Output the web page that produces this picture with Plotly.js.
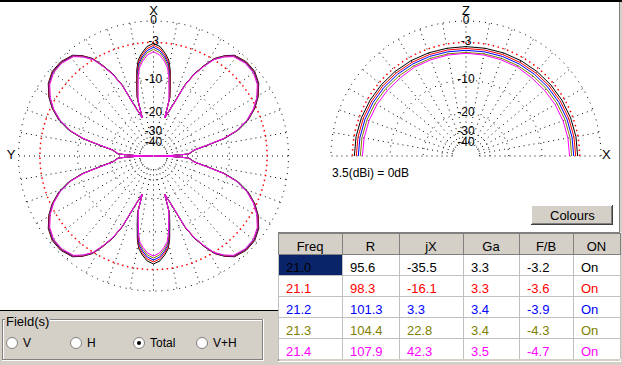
<!DOCTYPE html>
<html><head><meta charset="utf-8">
<script src="https://cdn.plot.ly/plotly-3.0.1.min.js"></script>
<style>html,body{margin:0;padding:0;background:#d4d0c8;}#chart{width:622px;height:365px;}</style>
</head><body><div id="chart"></div>
<script>
// ---------------- data ----------------
const FREQS = ['21.0','21.1','21.2','21.3','21.4'];
const R_OHM = ['95.6','98.3','101.3','104.4','107.9'];
const JX    = ['-35.5','-16.1','3.3','22.8','42.3'];
const GA    = ['3.3','3.3','3.4','3.4','3.5'];
const FB    = ['-3.2','-3.6','-3.9','-4.3','-4.7'];
const ONOFF = ['On','On','On','On','On'];
const HEADERS = ['Freq','R','jX','Ga','F/B','ON'];
const COLORS = ['#000000','#ff0000','#0000ff','#808000','#ff00ff'];

// radial rings / tick labels (dB)
const RING_DB = [0,-3,-10,-20,-30,-40];
const RING_TXT = ['0','-3','-10','-20','-30','-40'];
const GRID_RING_DB = [0,-10,-20,-30,-40];

// azimuth pattern, half plane 0..180 deg from X (front) toward Y, dB
const AZ_ANGLES = [0,3.5,6.5,9,11,13.3,15.6,16.4,21.4,23.8,26.5,29.4,32.1,35.4,38.8,44.6,50.1,55.4,60.5,64.8,69.2,73,76.1,78.6,81.7,86.8,88.5,90,
                   91.5,93.2,98.3,101.4,103.9,107,110.8,115.2,119.5,124.6,129.9,135.4,141.2,144.6,147.9,150.6,153.5,156.2,158.6,163.6,164.4,166.7,169,171,173.5,176.5,180];
const AZ_21_0 = [-3.14,-3.63,-4.63,-5.70,-7.50,-10.70,-13.70,-21.3,
                 -14.6,-9.6,-6.6,-4.45,-2.74,-1.6,-0.75,-0.35,-0.4,-0.95,-2.0,-3.25,-5.0,-7.3,-10.6,-15.4,-20.4,-23.2,-34.5,-99,
                 -34.5,-23.2,-20.4,-15.4,-10.6,-7.3,-5.0,-3.25,-2.0,-0.95,-0.4,-0.35,-0.75,-1.6,-2.74,-4.45,-6.6,-9.6,-14.6,
                 -21.3,-14.2,-11.2,-8.1,-6.3,-5.3,-4.35,-3.88];
const AZ_21_1 = [-3.45,-3.95,-4.95,-6.05,-7.85,-11.05,-14.0,-21.3,
                 -14.7,-9.68,-6.67,-4.51,-2.8,-1.66,-0.81,-0.41,-0.46,-1.01,-2.06,-3.31,-5.07,-7.38,-10.7,-15.5,-20.5,-23.3,-34.5,-99,
                 -34.5,-23.3,-20.5,-15.5,-10.7,-7.38,-5.07,-3.31,-2.06,-1.01,-0.46,-0.41,-0.81,-1.66,-2.8,-4.51,-6.67,-9.68,-14.7,
                 -21.3,-14.4,-11.5,-8.4,-6.6,-5.62,-4.68,-4.20];
const AZ_21_2 = [-3.76,-4.27,-5.28,-6.40,-8.20,-11.40,-14.30,-21.3,
                 -14.8,-9.76,-6.74,-4.57,-2.86,-1.72,-0.87,-0.47,-0.52,-1.07,-2.12,-3.38,-5.14,-7.46,-10.8,-15.6,-20.6,-23.4,-34.5,-99,
                 -34.5,-23.4,-20.6,-15.6,-10.8,-7.46,-5.14,-3.38,-2.12,-1.07,-0.52,-0.47,-0.87,-1.72,-2.86,-4.57,-6.74,-9.76,-14.8,
                 -21.3,-14.6,-11.8,-8.7,-6.92,-5.95,-5.0,-4.53];
const AZ_21_3 = [-4.09,-4.60,-5.62,-6.76,-8.58,-11.75,-14.60,-21.3,
                 -14.9,-9.84,-6.81,-4.63,-2.92,-1.78,-0.93,-0.53,-0.58,-1.13,-2.18,-3.44,-5.21,-7.54,-10.9,-15.7,-20.7,-23.5,-34.5,-99,
                 -34.5,-23.5,-20.7,-15.7,-10.9,-7.54,-5.21,-3.44,-2.18,-1.13,-0.58,-0.53,-0.93,-1.78,-2.92,-4.63,-6.81,-9.84,-14.9,
                 -21.3,-14.8,-12.1,-9.05,-7.25,-6.3,-5.35,-4.87];
const AZ_21_4 = [-4.48,-5.00,-6.02,-7.18,-9.00,-12.10,-14.90,-21.3,
                 -15.0,-9.92,-6.88,-4.7,-2.98,-1.84,-0.99,-0.59,-0.64,-1.19,-2.24,-3.5,-5.28,-7.62,-11.0,-15.8,-20.8,-23.6,-34.5,-99,
                 -34.5,-23.6,-20.8,-15.8,-11.0,-7.62,-5.28,-3.5,-2.24,-1.19,-0.64,-0.59,-0.99,-1.84,-2.98,-4.7,-6.88,-9.92,-15.0,
                 -21.3,-15.0,-12.4,-9.4,-7.6,-6.65,-5.7,-5.21];
const AZ_SERIES = [AZ_21_0, AZ_21_1, AZ_21_2, AZ_21_3, AZ_21_4];

// elevation pattern, 0..90 deg above horizon, dB
const EL_ANGLES = [0,10,20,30,40,50,60,70,80,90];
const EL_21_0 = [-3.3,-3.3,-3.35,-3.4,-3.45,-3.5,-3.55,-3.6,-3.65,-3.65];
const EL_21_1 = [-3.6,-3.62,-3.65,-3.7,-3.74,-3.8,-3.86,-3.9,-3.94,-3.95];
const EL_21_2 = [-3.92,-3.93,-3.96,-4.0,-4.05,-4.1,-4.15,-4.2,-4.24,-4.25];
const EL_21_3 = [-4.25,-4.26,-4.3,-4.35,-4.4,-4.46,-4.5,-4.55,-4.58,-4.6];
const EL_21_4 = [-4.6,-4.62,-4.66,-4.72,-4.8,-4.85,-4.75,-4.8,-4.78,-4.75];
const EL_SERIES = [EL_21_0, EL_21_1, EL_21_2, EL_21_3, EL_21_4];

// ---------------- helpers ----------------
const W = 622, H = 365;
const FONT = 'Liberation Sans, Arial, sans-serif';
const toR = db => Math.pow(10, db / 40);          // MMANA radial scale
const PX = x => x / W, PY = y => 1 - y / H;
const RMAX = 1.1;                                  // data subplot radial range

function mirrorAz(ang, vals) {
  const th = ang.slice(), r = vals.map(toR);
  for (let i = ang.length - 2; i >= 0; i--) { th.push(360 - ang[i]); r.push(toR(vals[i])); }
  return {th, r};
}
function mirrorEl(ang, vals) {
  const th = ang.slice(), r = vals.map(toR);
  for (let i = ang.length - 2; i >= 0; i--) { th.push(180 - ang[i]); r.push(toR(vals[i])); }
  return {th, r};
}

const traces = [];
const circL = [], circR = [];
for (let a = 0; a <= 360; a += 1) circL.push(a);
for (let a = 0; a <= 180; a += 1) circR.push(a);
// dotted black grid rings
GRID_RING_DB.forEach(db => {
  traces.push({type:'scatterpolar', subplot:'polar2', mode:'lines', theta:circL, r:circL.map(()=>toR(db)),
    line:{color:'#000', width:1, dash:'1px,5px'}, hoverinfo:'skip'});
  traces.push({type:'scatterpolar', subplot:'polar4', mode:'lines', theta:circR, r:circR.map(()=>toR(db)),
    line:{color:'#000', width:1, dash:'1px,5px'}, hoverinfo:'skip'});
});
// -3 dB red dotted reference circles
traces.push({type:'scatterpolar', subplot:'polar2', mode:'lines', theta:circL, r:circL.map(()=>toR(-3)),
  line:{color:'#ff0000', width:1.5, dash:'1.5px,3.5px'}, hoverinfo:'skip'});
traces.push({type:'scatterpolar', subplot:'polar4', mode:'lines', theta:circR, r:circR.map(()=>toR(-3)),
  line:{color:'#ff0000', width:1.5, dash:'1.5px,3.5px'}, hoverinfo:'skip'});
// spoke-grid subplots need a trace
traces.push({type:'scatterpolar', subplot:'polar', mode:'markers', theta:[0], r:[0.5], marker:{size:0.1, opacity:0}, hoverinfo:'skip'});
traces.push({type:'scatterpolar', subplot:'polar3', mode:'markers', theta:[90], r:[0.5], marker:{size:0.1, opacity:0}, hoverinfo:'skip'});

AZ_SERIES.forEach((s, i) => {
  const m = mirrorAz(AZ_ANGLES, s);
  traces.push({type:'scatterpolar', subplot:'polar2', mode:'lines', theta:m.th, r:m.r,
    line:{color:COLORS[i], width:1}, name:FREQS[i]});
});
EL_SERIES.forEach((s, i) => {
  const m = mirrorEl(EL_ANGLES, s);
  traces.push({type:'scatterpolar', subplot:'polar4', mode:'lines', theta:m.th, r:m.r,
    line:{color:COLORS[i], width:1}, name:FREQS[i]});
});
// ring labels
traces.push({type:'scatterpolar', subplot:'polar2', mode:'text', theta:RING_DB.map(()=>0), r:RING_DB.map(toR),
  text:RING_TXT, textposition:'middle center', textfont:{family:FONT, size:12, color:'#000'}, cliponaxis:false, hoverinfo:'skip'});
traces.push({type:'scatterpolar', subplot:'polar4', mode:'text', theta:RING_DB.map(()=>90), r:RING_DB.map(toR),
  text:RING_TXT, textposition:'middle center', textfont:{family:FONT, size:12, color:'#000'}, cliponaxis:false, hoverinfo:'skip'});
// axis names
traces.push({type:'scatterpolar', subplot:'polar2', mode:'text', theta:[0,90], r:[1.065,1.055], text:['X','Y'],
  textposition:'middle center', textfont:{family:FONT, size:13, color:'#000'}, cliponaxis:false, hoverinfo:'skip'});
traces.push({type:'scatterpolar', subplot:'polar4', mode:'text', theta:[90,0], r:[1.065,1.04], text:['Z','X'],
  textposition:'middle center', textfont:{family:FONT, size:13, color:'#000'}, cliponaxis:false, hoverinfo:'skip'});

// table
const white = '#ffffff';
const fills = HEADERS.map((h, c) => FREQS.map((f, r) => (c === 0 && r === 0) ? '#0a246a' : white));
traces.push({type:'table', domain:{x:[PX(278), PX(620)], y:[PY(360), PY(233)]},
  columnwidth:[64,57,64,56,54,47],
  header:{values:HEADERS, fill:{color:'#d4d0c8'}, line:{color:'#808080', width:1},
    font:{family:FONT, size:13, color:'#000'}, align:'center', height:21},
  cells:{values:[FREQS, R_OHM, JX, GA, FB, ONOFF], fill:{color:fills},
    font:{family:FONT, size:13, color:HEADERS.map(()=>COLORS)}, line:{color:'#c0c0c0', width:1},
    align:'left', height:21}
});

// ---------------- layout ----------------
const gridPolar = (dom, sector, rot) => ({
  domain: dom, bgcolor:'rgba(0,0,0,0)', hole: 0.1, sector: sector,
  radialaxis:{range:[0.1,1], showgrid:false, showticklabels:false, ticks:'', showline:false},
  angularaxis:{rotation:rot, direction:'counterclockwise', tickmode:'linear', dtick:10, showticklabels:false,
    ticks:'', showline:false, gridcolor:'#000', griddash:'1px,4px', gridwidth:1}
});
const dataPolar = (dom, sector, rot) => ({
  domain: dom, bgcolor:'rgba(0,0,0,0)', sector: sector,
  radialaxis:{range:[0,RMAX], visible:false},
  angularaxis:{rotation:rot, direction:'counterclockwise', visible:false}
});
// centres and unit radius in pixels
const CL = {x:153.5, y:156}, CR = {x:466, y:156}, R0 = 135;
const domL  = {x:[PX(CL.x-R0), PX(CL.x+R0)], y:[PY(CL.y+R0), PY(CL.y-R0)]};
const domL2 = {x:[PX(CL.x-R0*RMAX), PX(CL.x+R0*RMAX)], y:[PY(CL.y+R0*RMAX), PY(CL.y-R0*RMAX)]};
const domR  = {x:[PX(CR.x-R0), PX(CR.x+R0)], y:[PY(CR.y), PY(CR.y-R0)]};
const domR2 = {x:[PX(CR.x-R0*RMAX), PX(CR.x+R0*RMAX)], y:[PY(CR.y), PY(CR.y-R0*RMAX)]};

const shapes = [];
function rect(x0,y0,x1,y1,fill){ shapes.push({type:'rect', xref:'paper', yref:'paper', layer:'below',
  x0:PX(x0), x1:PX(x1), y0:PY(y1), y1:PY(y0), fillcolor:fill, line:{width:0}}); }
function seg(x0,y0,x1,y1,color){ shapes.push({type:'line', xref:'paper', yref:'paper', layer:'below',
  x0:PX(x0), x1:PX(x1), y0:PY(y0), y1:PY(y1), line:{width:1, color:color}}); }
function circ(cx,cy,rad,fill,line){ shapes.push({type:'circle', xref:'paper', yref:'paper', layer:'above',
  x0:PX(cx-rad), x1:PX(cx+rad), y0:PY(cy+rad), y1:PY(cy-rad), fillcolor:fill, line:{width: line?1:0, color: line||fill}}); }

rect(0,2,619,232,'#ffffff');
rect(0,2,278,310,'#ffffff');
rect(0,0,622,2,'#000000');
seg(619.5,2,619.5,232,'#808080');
seg(0,310.5,278,310.5,'#000000');
// table frame
seg(278.5,232,278.5,362,'#808080');
seg(278,232.5,620,232.5,'#808080');
seg(620.5,232,620.5,362,'#ffffff');
seg(278,361.5,621,361.5,'#ffffff');
// Colours button
rect(531,205,613,225,'#d4d0c8');
seg(531,205.5,612,205.5,'#ffffff');
seg(531.5,205,531.5,224,'#ffffff');
seg(531,224.5,613,224.5,'#404040');
seg(612.5,205,612.5,225,'#404040');
seg(532,223.5,612,223.5,'#808080');
seg(611.5,206,611.5,224,'#808080');
// group box (etched)
seg(2,319.5,5,319.5,'#808080'); seg(50,319.5,262,319.5,'#808080');
seg(3,320.5,5,320.5,'#ffffff'); seg(50,320.5,262,320.5,'#ffffff');
seg(2.5,319,2.5,360,'#808080'); seg(3.5,320,3.5,359,'#ffffff');
seg(2,359.5,262,359.5,'#808080'); seg(2,360.5,263,360.5,'#ffffff');
seg(262.5,319,262.5,360,'#808080'); seg(263.5,319,263.5,361,'#ffffff');
// radio buttons
[12,76,139,202].forEach(cx => circ(cx,343,5.5,'#ffffff','#808080'));
circ(139,343,2,'#000000');

const ann = (x,y,text,size,anchor) => ({xref:'paper', yref:'paper', x:PX(x), y:PY(y), text:text, showarrow:false,
  xanchor:anchor||'left', yanchor:'middle', font:{family:FONT, size:size, color:'#000'}});
const annotations = [
  ann(330,172.5,'3.5(dBi) = 0dB',12),
  ann(572,215,'Colours',13,'center'),
  ann(4,321,'Field(s)',13),
  ann(21,343,'V',12), ann(85,343,'H',12), ann(148,343,'Total',12), ann(211,343,'V+H',12)
];

const layout = {
  width:W, height:H, margin:{l:0,r:0,t:0,b:0,pad:0}, paper_bgcolor:'#d4d0c8', plot_bgcolor:'rgba(0,0,0,0)',
  showlegend:false, font:{family:FONT, size:12, color:'#000'},
  polar: gridPolar(domL, [0,360], 90),
  polar2: dataPolar(domL2, [0,360], 90),
  polar3: gridPolar(domR, [0,180], 0),
  polar4: dataPolar(domR2, [0,180], 0),
  shapes: shapes, annotations: annotations
};
Plotly.newPlot('chart', traces, layout, {staticPlot:true, displayModeBar:false});
</script></body></html>
